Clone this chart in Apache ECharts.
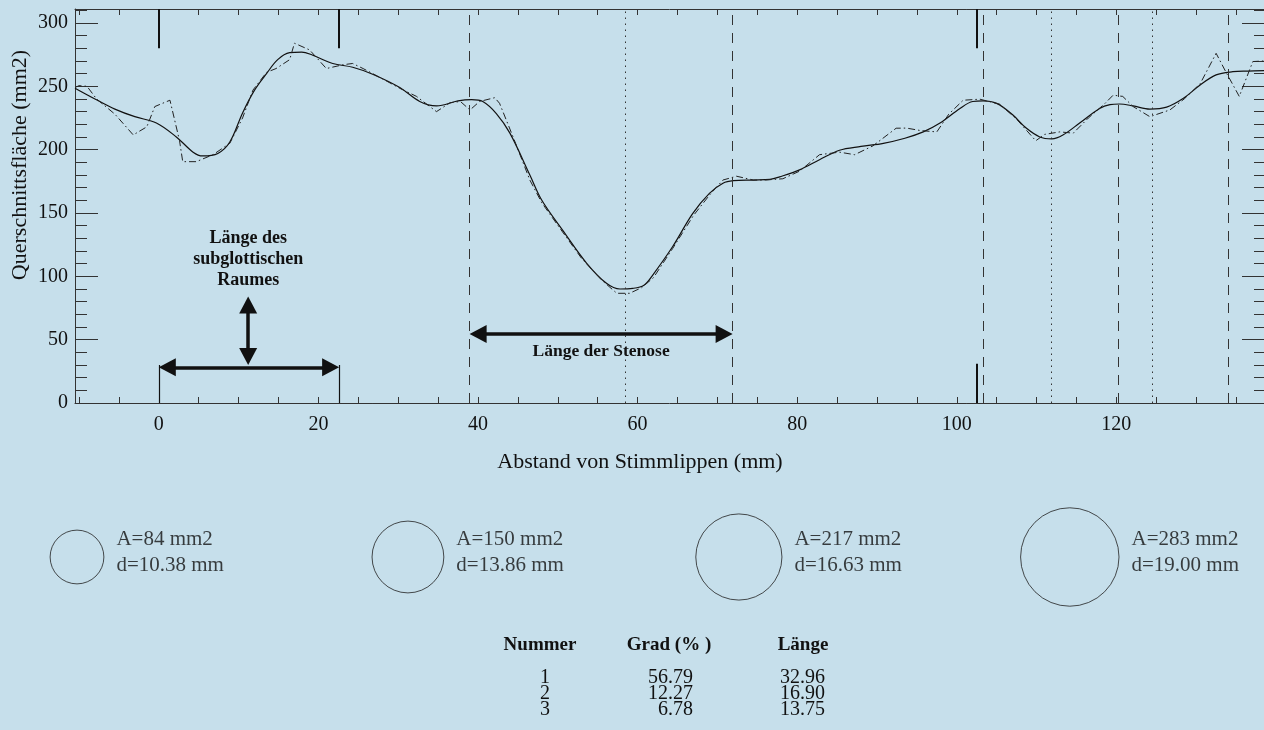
<!DOCTYPE html>
<html><head><meta charset="utf-8">
<script src="https://cdn.jsdelivr.net/npm/echarts@6/dist/echarts.min.js"></script>
<style>html,body{margin:0;padding:0;background:#c6dfeb;}#c{width:1264px;height:730px;}</style>
</head><body><div id="c"></div>
<script>
// ---- data ----
const smoothX = [-10.5,-8,-5.5,-3,-0.3,2.2,4.3,5.5,7.4,8.9,10.5,12,13.5,14.9,16.4,17.9,19.3,21.8,24.3,26.8,30.2,32.7,34.8,37.5,39.2,40.6,42.3,44,46.5,48,50.6,53.6,56.1,57.8,59.4,60.8,61.9,64.4,66.9,69,70.7,72,74.5,76.6,77.8,80.3,82.8,85.3,88,90.8,93.5,95.8,97.9,100.4,102,103.3,105,107,108.7,110.4,111.9,113.3,115.4,117.9,119.2,120.4,122.1,124.2,126.3,128.4,130.5,132.5,134.6,136.5,138.5];
const smoothY = [248.5,240,232,226,221,210,198,195,197,206,229,247,260,271,276.5,277,274.5,268,265,259.5,249,238,234.5,238.5,239.5,238,228.5,213,180,160,136.5,110.5,94.5,90,90.5,93,101,123.5,149.5,165.5,173.5,175.5,176,176.5,178.5,184,192,199.5,202.5,205,209,214,221,232.5,238,238.5,236.5,227.5,217,210,208.5,211.5,221,232.5,235.5,236,234.5,232,233.5,240.5,251,259,261.5,262,262.3];
const rawX = [-10.5,-10,-9,-7.8,-5.5,-3.2,-1.5,-0.5,1.4,2.6,3.0,4.7,6.8,8.9,10.5,11.8,13.5,14.7,16.4,17.0,18.9,21.0,23.1,24.3,25.6,28,30.2,32.3,34.8,36.5,37.8,39.0,40.2,42.1,42.7,44.4,46.5,48,50.6,53,55.5,57.4,59,60.5,62,64.4,67,69,70.7,72.4,74.5,76,78.2,80.3,82.8,85.3,87.2,89.5,92.4,93.7,95.5,97.5,99,100.8,102.9,105.4,107.5,109.9,111,112.9,114.6,116.5,118.5,119.6,120.8,122.1,124.2,126.7,128.5,130.5,132.5,133.7,135.4,137.1,138.5];
const rawY = [249,250.5,250,240,228,211.6,218,234,239,207,190.5,190.5,196,205,225,247,261,264,271,284,278.7,264,267,268,264,256,248.4,242,230,237,238,231.3,238,241,236.6,210,176,158,135,114,97,86.6,86.6,91,99,122,148,164,176,179,176,176,177,183,196,198,196,203,216.9,217,215,214,228,239,239.8,235.8,224,207,212,214,213,225,236,243,242,234,226,231.3,240,252,276,261.6,242,269.5,270];
const stenosisBounds = [38.95, 71.91, 103.3, 120.2, 134.0];
const stenosisCenters = [58.5, 111.8, 124.5];
const stenosisLabels = ['1', '2', '3'];
const subglotticRange = [0, 22.6];
const thirdMarkerX = 102.5;
const xTickLabels = [0, 20, 40, 60, 80, 100, 120];
const yTickLabels = [0, 50, 100, 150, 200, 250, 300];
const circleArea = [84, 150, 217, 283];
const circleDiam = [10.38, 13.86, 16.63, 19.00];
const tableNummer = ['1', '2', '3'];
const tableGrad = ['56.79', '12.27', '6.78'];
const tableLaenge = ['32.96', '16.90', '13.75'];

// ---- layout constants ----
const X_MIN = -10.5, X_MAX = 138.5, Y_MIN = 0, Y_MAX = 311;
const GRID = { left: 75, right: 0, top: 9, bottom: 327 };
const W = 1264, H = 730;
const FONT = '"Liberation Serif", "Times New Roman", serif';
const INK = '#111';
const CIRCLE_PX_PER_MM = 2.59;
const ARROW = 17;
const PX_PER_X = (W - GRID.left - GRID.right) / (X_MAX - X_MIN);
const PX_PER_Y = (H - GRID.top - GRID.bottom) / (Y_MAX - Y_MIN);
const insetX = ARROW / 2 / PX_PER_X, insetY = ARROW / 2 / PX_PER_Y;

function range(a, b, s) { const r = []; for (let v = a; v <= b + 1e-9; v += s) r.push(v); return r; }
const xMinorTicks = range(-10, 135, 5);
const yMinorTicks = range(0, 310, 10);

const chart = echarts.init(document.getElementById('c'), null, { renderer: 'canvas' });

function yAxisDef(pos, ticks, len, labels) {
  return {
    type: 'value', gridIndex: 0, position: pos, min: Y_MIN, max: Y_MAX,
    axisLine: { show: !!labels, onZero: false, lineStyle: { color: '#333', width: 1 } },
    axisTick: { show: true, inside: true, length: len, customValues: ticks, lineStyle: { color: '#333', width: 1 } },
    axisLabel: labels ? { show: true, customValues: labels, margin: 7, fontSize: 20, fontFamily: FONT, color: INK } : { show: false },
    splitLine: { show: false }
  };
}
function xAxisDef(pos, labels) {
  return {
    type: 'value', gridIndex: 0, position: pos, min: X_MIN, max: X_MAX,
    axisLine: { show: true, onZero: false, lineStyle: { color: '#333', width: 1 } },
    axisTick: { show: true, inside: true, length: 6, customValues: xMinorTicks, lineStyle: { color: '#333' } },
    axisLabel: labels ? { show: true, customValues: labels, margin: 12, fontSize: 20, fontFamily: FONT, color: INK } : { show: false },
    splitLine: { show: false }
  };
}

const segStyle = (w) => ({ color: INK, width: w, type: 'solid' });
const markerSegments = [
  [{ coord: [subglotticRange[0], 280], lineStyle: segStyle(2) }, { coord: [subglotticRange[0], Y_MAX] }],
  [{ coord: [subglotticRange[1], 280], lineStyle: segStyle(2) }, { coord: [subglotticRange[1], Y_MAX] }],
  [{ coord: [thirdMarkerX, 280], lineStyle: segStyle(2) }, { coord: [thirdMarkerX, Y_MAX] }],
  [{ coord: [thirdMarkerX, 0], lineStyle: segStyle(2) }, { coord: [thirdMarkerX, 31] }],
  [{ coord: [subglotticRange[0], 0], lineStyle: segStyle(1.2) }, { coord: [subglotticRange[0], 30] }],
  [{ coord: [subglotticRange[1], 0], lineStyle: segStyle(1.2) }, { coord: [subglotticRange[1], 30] }]
];

const arrowLabel = { fontFamily: FONT, fontWeight: 'bold', color: INK };
const arrows = [
  [{ coord: [subglotticRange[0] + insetX, 28.2] }, { coord: [subglotticRange[1] - insetX, 28.2] }],
  [{ coord: [11.2, 30 + insetY], label: Object.assign({ show: true, position: 'end', distance: 6 + ARROW / 2, fontSize: 18, lineHeight: 21, align: 'center',
      formatter: 'Länge des\nsubglottischen\nRaumes' }, arrowLabel) }, { coord: [11.2, 84 - insetY] }],
  [{ coord: [stenosisBounds[0] + insetX, 54.5], label: Object.assign({ show: true, position: 'insideMiddleBottom', distance: 9, fontSize: 17.5,
      formatter: 'Länge der Stenose' }, arrowLabel) }, { coord: [stenosisBounds[1] - insetX, 54.5] }]
];

const option = {
  backgroundColor: '#c6dfeb',
  animation: false,
  grid: [
    Object.assign({ containLabel: false }, GRID),
    { left: 77, width: 992.8, top: 500, height: 114, containLabel: false }
  ],
  xAxis: [
    xAxisDef('bottom', xTickLabels),
    xAxisDef('top', null),
    { type: 'value', gridIndex: 1, min: 0, max: 3, show: false }
  ],
  yAxis: [
    yAxisDef('left', yTickLabels, 23, yTickLabels),
    yAxisDef('left', yMinorTicks, 12, null),
    yAxisDef('right', yTickLabels, 22, null),
    yAxisDef('right', yMinorTicks, 10, null),
    { type: 'value', gridIndex: 1, min: -1, max: 1, show: false }
  ],
  series: [
    {
      name: 'geglättet', type: 'line', xAxisIndex: 0, yAxisIndex: 0,
      data: smoothX.map((x, i) => [x, smoothY[i]]),
      showSymbol: false, smooth: 0.35, silent: true,
      lineStyle: { color: INK, width: 1.2 },
      markLine: {
        silent: true, symbol: 'none', animation: false, label: { show: false },
        data: [
          ...stenosisBounds.map(v => ({ xAxis: v, lineStyle: { color: '#333', width: 1, type: [10, 8] } })),
          ...stenosisCenters.map(v => ({ xAxis: v, lineStyle: { color: '#333', width: 1, type: [1.5, 4.5] } }))
        ]
      }
    },
    {
      name: 'Rohdaten', type: 'line', xAxisIndex: 0, yAxisIndex: 0,
      data: rawX.map((x, i) => [x, rawY[i]]),
      showSymbol: false, silent: true,
      lineStyle: { color: '#222', width: 1, type: [7, 3, 1.5, 3] }
    },
    {
      name: 'Marker', type: 'line', xAxisIndex: 0, yAxisIndex: 0, data: [],
      markLine: {
        silent: true, symbol: 'none', animation: false, label: { show: false },
        data: markerSegments
      }
    },
    {
      name: 'Pfeile', type: 'line', xAxisIndex: 0, yAxisIndex: 0, data: [],
      markLine: {
        silent: true, animation: false,
        symbol: ['triangle', 'triangle'], symbolSize: [18, ARROW],
        lineStyle: { color: INK, width: 3.5, type: 'solid' },
        itemStyle: { color: INK },
        label: { show: false },
        data: arrows
      }
    },
    {
      name: 'Nummern', type: 'scatter', xAxisIndex: 0, yAxisIndex: 0, silent: true,
      data: stenosisCenters.map((x, i) => [x, 285, stenosisLabels[i]]),
      symbolSize: 1, itemStyle: { opacity: 0 },
      label: { show: true, position: 'right', distance: 1, formatter: p => p.data[2], fontSize: 20, fontFamily: FONT, color: INK }
    },
    {
      name: 'Kreise', type: 'scatter', xAxisIndex: 2, yAxisIndex: 4, silent: true,
      data: circleDiam.map((d, i) => [i, 0, d, circleArea[i]]),
      symbol: 'circle',
      symbolSize: v => v[2] * 2 * CIRCLE_PX_PER_MM,
      itemStyle: { color: 'rgba(0,0,0,0)', borderColor: '#222', borderWidth: 1 },
      label: {
        show: true, position: 'right', distance: 12, offset: [0, -5],
        formatter: p => 'A=' + p.data[3] + ' mm2\nd=' + p.data[2].toFixed(2) + ' mm',
        fontSize: 21, lineHeight: 26, fontFamily: FONT, color: INK, align: 'left'
      }
    }
  ],
  graphic: []
};

// axis titles and table as text
const g = [];
g.push({ type: 'text', x: 20, y: 165, rotation: Math.PI / 2,
  style: { text: 'Querschnittsfläche (mm2)', font: '22px ' + FONT, fill: INK, textAlign: 'center', textVerticalAlign: 'middle' } });
g.push({ type: 'text', x: 640, y: 462,
  style: { text: 'Abstand von Stimmlippen (mm)', font: '22px ' + FONT, fill: INK, textAlign: 'center', textVerticalAlign: 'middle' } });
const headers = [['Nummer', 540], ['Grad (% )', 669], ['Länge', 803]];
headers.forEach(h => g.push({ type: 'text', x: h[1], y: 645,
  style: { text: h[0], font: 'bold 19px ' + FONT, fill: INK, textAlign: 'center', textVerticalAlign: 'middle' } }));
const rowY0 = 678, rowStep = 15.7;
tableNummer.forEach((t, i) => {
  const y = rowY0 + i * rowStep;
  g.push({ type: 'text', x: 545, y, style: { text: t, font: '20px ' + FONT, fill: INK, textAlign: 'center', textVerticalAlign: 'middle' } });
  g.push({ type: 'text', x: 693, y, style: { text: tableGrad[i], font: '20px ' + FONT, fill: INK, textAlign: 'right', textVerticalAlign: 'middle' } });
  g.push({ type: 'text', x: 825, y, style: { text: tableLaenge[i], font: '20px ' + FONT, fill: INK, textAlign: 'right', textVerticalAlign: 'middle' } });
});
option.graphic = g;

chart.setOption(option);
</script></body></html>
